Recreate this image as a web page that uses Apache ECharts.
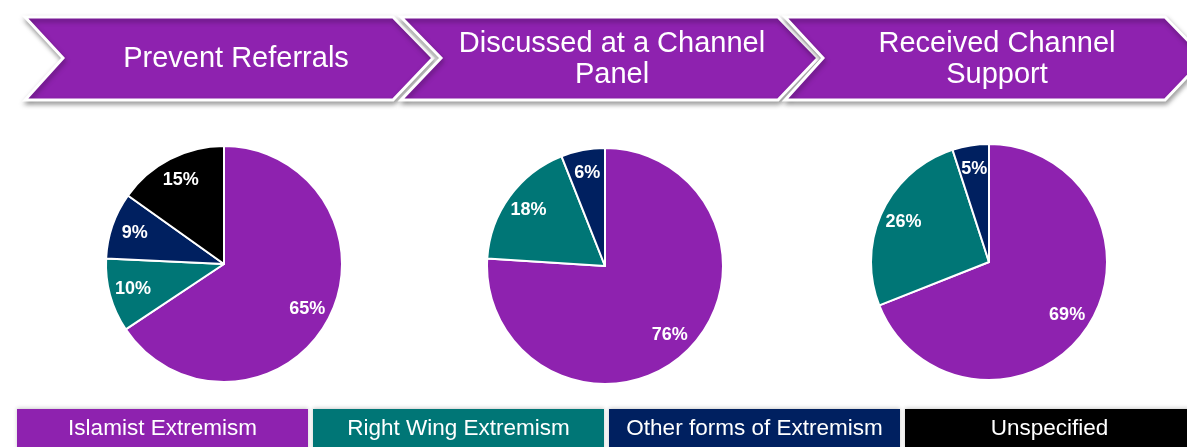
<!DOCTYPE html>
<html>
<head>
<meta charset="utf-8">
<script src="https://cdn.jsdelivr.net/npm/echarts@6/dist/echarts.min.js"></script>
<style>
html,body{margin:0;padding:0;background:#fff;}
#chart{width:1187px;height:447px;}
</style>
</head>
<body>
<div id="chart"></div>
<script>
// ---- data ----
const categories = ['Islamist Extremism', 'Right Wing Extremism', 'Other forms of Extremism', 'Unspecified'];
const stageTitles = ['Prevent Referrals', 'Discussed at a Channel\nPanel', 'Received Channel\nSupport'];
const preventReferrals = [65, 10, 9, 15];
const discussedAtPanel = [76, 18, 6, 0];
const receivedSupport = [69, 26, 5, 0];

// ---- styles / layout ----
const colors = ['#8E22AF', '#007676', '#002060', '#000000'];
const purple = '#8E22AF';
const font = '"Liberation Sans", Arial, sans-serif';
const pieCenters = [[224, 264], [605, 266], [989, 262]];
const pieRadius = 118;
const stageValues = [preventReferrals, discussedAtPanel, receivedSupport];

// chevron geometry: [left x, notch x, right flat x, tip x]
const chevrons = [[25, 63, 393, 433], [401, 441, 778, 818], [785, 823, 1165, 1205]];
const chevTop = 17, chevBot = 100, chevMid = 58;
const titleX = [236, 612, 997];

const chart = echarts.init(document.getElementById('chart'), null, {renderer: 'canvas'});

const series = [];
stageValues.forEach(function (vals, s) {
  const data = [];
  vals.forEach(function (v, i) {
    if (v > 0) data.push({name: categories[i], value: v, itemStyle: {color: colors[i]}});
  });
  series.push({
    type: 'pie', silent: true, animation: false,
    center: pieCenters[s], radius: [0, pieRadius],
    startAngle: 90, clockwise: true,
    itemStyle: {borderColor: '#fff', borderWidth: 2},
    label: {show: false}, labelLine: {show: false},
    data: data
  });
  series.push({
    type: 'pie', silent: true, animation: false,
    center: pieCenters[s], radius: [pieRadius * 0.55, pieRadius],
    startAngle: 90, clockwise: true,
    itemStyle: {color: 'rgba(0,0,0,0)', borderWidth: 0},
    label: {show: true, position: 'inside', formatter: '{c}%', color: '#fff',
            fontWeight: 'bold', fontSize: 18, fontFamily: font},
    labelLine: {show: false},
    data: data.map(function (d) { return {name: d.name, value: d.value}; })
  });
});

const graphics = [];
chevrons.forEach(function (c, i) {
  graphics.push({
    type: 'polygon', z: 1,
    shape: {points: [[c[0], chevTop], [c[2], chevTop], [c[3], chevMid], [c[2], chevBot], [c[0], chevBot], [c[1], chevMid]]},
    style: {fill: purple, stroke: '#fff', lineWidth: 3,
            shadowBlur: 5, shadowOffsetX: 1, shadowOffsetY: 3, shadowColor: 'rgba(0,0,0,0.35)'}
  });
  graphics.push({
    type: 'text', z: 2, x: titleX[i], y: chevMid + 1,
    style: {text: stageTitles[i], fill: '#fff', font: '29px ' + font,
            align: 'center', verticalAlign: 'middle', lineHeight: 31}
  });
});

const legX0 = 17, legStep = 296, legW = 291, legY = 409, legH = 42;
categories.forEach(function (name, i) {
  const x = legX0 + i * legStep;
  graphics.push({
    type: 'rect', z: 1,
    shape: {x: x, y: legY, width: legW, height: legH},
    style: {fill: colors[i], shadowBlur: 4, shadowOffsetY: -1, shadowColor: 'rgba(0,0,0,0.2)'}
  });
  graphics.push({
    type: 'text', z: 2, x: x + legW / 2 - (i === 3 ? 1 : 0), y: 429,
    style: {text: name, fill: '#fff', font: '22.5px ' + font, align: 'center', verticalAlign: 'middle'}
  });
});

chart.setOption({
  backgroundColor: '#fff',
  animation: false,
  series: series,
  graphic: graphics
});
</script>
</body>
</html>
